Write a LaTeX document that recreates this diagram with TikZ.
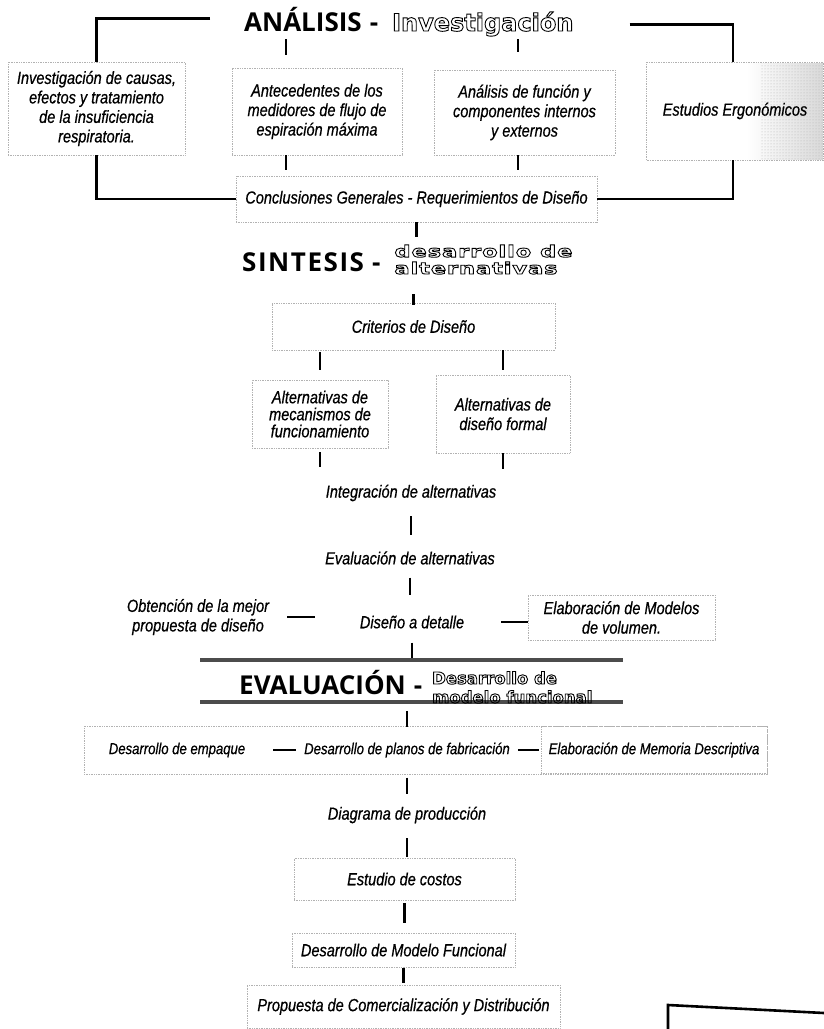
\documentclass[tikz,border=0pt]{standalone}
\usepackage{fontspec}
\usepackage{tikz}
\usetikzlibrary{shapes.geometric,positioning,arrows,patterns}

\newfontfamily\txtfont{Liberation Sans}[FakeStretch=0.83,FakeBold=0.6]
\newfontfamily\headfont{Open Sans}
\newfontfamily\headwide{Open Sans}[LetterSpace=6]
\newfontfamily\outfont{DejaVu Sans}
\newfontfamily\outwide{DejaVu Sans}[FakeStretch=1.42,LetterSpace=5]
\newcommand{\boxtxt}{\txtfont\itshape\fontsize{17.5}{19.5}\selectfont}
\newcommand{\boxtxtalt}{\txtfont\itshape\fontsize{17.5}{17}\selectfont}
\newcommand{\boxtxtsm}{\txtfont\itshape\fontsize{15.8}{17}\selectfont}
\newcommand{\headfmt}{\headfont\bfseries\fontsize{26}{26}\selectfont}
\newcommand{\outl}[1]{\special{pdf:literal direct 1 Tr 0.9 w}#1\special{pdf:literal direct 0 Tr}}

\begin{document}
\begin{tikzpicture}[
		x=1pt,y=-1pt,
		box/.style={
			draw=gray!60,
			densely dotted,
			line width=0.7pt,
			rectangle,
			inner sep=2pt,
			font=\boxtxt,
			align=center
		},
		item/.style={font=\boxtxt, align=center, inner sep=0pt},
		head/.style={font=\headfmt, inner sep=0pt, anchor=base west},
		link/.style={line width=2.4pt},
		bracket/.style={line width=2.6pt},
		joint/.style={line width=2.2pt},
		stripe/.style={line width=4pt, draw=black!70}
		]
		\useasboundingbox (0,0) rectangle (824,1029);
		
		% Analisis
		\node[head] (ana) at (244,31) {ANÁLISIS\hspace{8pt}-\hspace{14pt}{\outfont\fontsize{24}{24}\selectfont\outl{Investigación}}};
		
		\shade[left color=white, right color=gray!30] (747,63) rectangle (823,159);
		\fill[pattern=dots, pattern color=gray!60] (760,63) rectangle (823,159);
		
		\node[box, minimum width=177pt, minimum height=93pt] (inv) at (96.5,108.5) {Investigación de causas,\\ efectos y tratamiento\\ de la insuficiencia\\ respiratoria.};
		\node[box, minimum width=170pt, minimum height=87pt] (ante) at (317,111.5) {Antecedentes de los\\ medidores de flujo de\\ espiración máxima};
		\node[box, minimum width=181pt, minimum height=85pt] (func) at (524.5,112.5) {Análisis de función y\\ componentes internos\\ y externos};
		\node[box, minimum width=177pt, minimum height=98pt] (ergo) at (735,111) {Estudios Ergonómicos};
		\node[box, minimum width=361pt, minimum height=46pt] (concl) at (416.5,199) {Conclusiones Generales - Requerimientos de Diseño};
		
		\draw[bracket] ([xshift=-34pt,yshift=3pt]ana.west) -| (inv.north);
		\draw[bracket] ([xshift=56pt,yshift=-3pt]ana.east) -| ([xshift=-2pt]ergo.north);
		\draw[bracket] (inv.south) |- (concl.west);
		\draw[bracket] ([xshift=-2pt]ergo.south) |- (concl.east);
		
		\draw[link, shorten <=3pt, shorten >=13pt] ([xshift=-31pt]ante.north |- ana.south) -- ([xshift=-31pt]ante.north);
		\draw[link, shorten <=3pt, shorten >=18pt] ([xshift=-6.5pt]func.north |- ana.south) -- ([xshift=-6.5pt]func.north);
		\draw[link, shorten >=6pt] ([xshift=-31pt]ante.south) -- ([xshift=-31pt]ante.south |- concl.north);
		\draw[link, shorten >=6pt] ([xshift=-6.5pt]func.south) -- ([xshift=-6.5pt]func.south |- concl.north);
		
		% Sintesis
		\node[head] (sint) at (242,271) {{\headwide SINTESIS}\hspace{8pt}-\hspace{14pt}\raisebox{-3pt}{\outl{\outwide\bfseries\fontsize{16}{16}\selectfont\begin{tabular}[b]{@{}l@{}}desarrollo de\\ alternativas\end{tabular}}}};
		\node[box, minimum width=283pt, minimum height=47pt] (crit) at (413.5,326.5) {Criterios de Diseño};
		\node[box, font=\boxtxtalt, minimum width=136pt, minimum height=68pt] (altm) at (320,414) {Alternativas de\\ mecanismos de\\ funcionamiento};
		\node[box, minimum width=134pt, minimum height=78pt] (altf) at (503,414) {Alternativas de\\ diseño formal};
		\node[item] (integ) at (411,493) {Integración de alternativas};
		\node[item] (evalalt) at (410,558) {Evaluación de alternativas};
		\node[item] (obten) at (198,617) {Obtención de la mejor\\ propuesta de diseño};
		\node[item] (detalle) at (412,622) {Diseño a detalle};
		\node[box, minimum width=187pt, minimum height=45pt] (model) at (621.5,617.5) {Elaboración de Modelos\\ de volumen.};
		
		\draw[link, shorten >=8pt] (concl.south) -- (concl.south |- sint.north);
		\draw[link, shorten <=15pt, shorten >=-2pt] (crit.north |- sint.south) -- (crit.north);
		\draw[link, shorten <=2pt, shorten >=10pt] (altm.north |- crit.south) -- (altm.north);
		\draw[link, shorten >=5pt] (altf.north |- crit.south) -- (altf.north);
		\draw[link, shorten <=4pt, shorten >=18pt] (altm.south) -- (altm.south |- integ.north);
		\draw[link, shorten >=16pt] (altf.south) -- (altf.south |- integ.north);
		\draw[link, shorten <=15pt, shorten >=16pt] (integ.south) -- (integ.south |- evalalt.north);
		\draw[link, shorten <=13pt, shorten >=20pt] (evalalt.south) -- (evalalt.south |- detalle.north);
		\draw[joint, shorten <=18pt, shorten >=45pt] (obten.east) -- (obten.east -| detalle.west);
		\draw[joint, shorten <=37pt] (detalle.east) -- (detalle.east -| model.west);
		
		% Evaluacion
		\draw[stripe] (200,660) -- (623,660);
		\draw[stripe] (200,702) -- (623,702);
		\node[head] (evalh) at (239,694) {EVALUACIÓN\hspace{8pt}-\hspace{10pt}\raisebox{-9pt}{\outl{\outfont\bfseries\fontsize{16.5}{19}\selectfont\begin{tabular}[b]{@{}l@{}}Desarrollo de\\ modelo funcional\end{tabular}}}};
		\node[item, font=\boxtxtsm] (empaque) at (177,750) {Desarrollo de empaque};
		\node[item, font=\boxtxtsm] (planos) at (407,750) {Desarrollo de planos de fabricación};
		\node[box, font=\boxtxtsm, minimum width=226pt, minimum height=47pt] (memoria) at (654,750) {Elaboración de Memoria Descriptiva};
		\draw[draw=gray!60, densely dotted, line width=0.7pt] ([xshift=-93pt]empaque.center |- memoria.north) rectangle (memoria.south east);
		\node[item] (diag) at (407,815) {Diagrama de producción};
		\node[box, minimum width=221pt, minimum height=42pt] (costos) at (404.5,879) {Estudio de costos};
		\node[box, minimum width=223pt, minimum height=34pt] (funcional) at (403.5,950) {Desarrollo de Modelo Funcional};
		\node[box, minimum width=313pt, minimum height=43pt] (prop) at (403.5,1006.5) {Propuesta de Comercialización y Distribución};
		
		\draw[link, shorten <=14pt, shorten >=12pt] (detalle.south) -- (detalle.south |- evalh.north);
		\draw[link, shorten <=2pt, shorten >=15pt] (planos.north |- evalh.south) -- (planos.north);
		\draw[joint, shorten <=28pt, shorten >=8pt] (empaque.east) -- (planos.west);
		\draw[joint, shorten <=8pt, shorten >=2pt] (planos.east) -- (planos.east -| memoria.west);
		\draw[link, shorten <=20pt, shorten >=13pt] (planos.south) -- (planos.south |- diag.north);
		\draw[link, shorten <=15pt, shorten >=1pt] (diag.south) -- (diag.south |- costos.north);
		\draw[link, shorten <=3pt, shorten >=10pt] (costos.south) -- (costos.south |- funcional.north);
		\draw[link, shorten <=1pt, shorten >=2pt] (funcional.south) -- (funcional.south |- prop.north);
		
		\draw[bracket] (668,1029) -- (668,1005) -- (824,1013);
	\end{tikzpicture}
\end{document}
